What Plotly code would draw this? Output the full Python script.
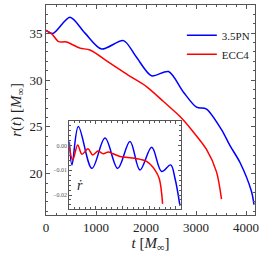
import plotly.graph_objects as go

# Main panel: r(t)
t_pn = [0, 140, 480, 780, 1110, 1550, 1800, 2110, 2450, 2750, 3010, 3210, 3510, 3680, 3880, 4110, 4160]
r_pn = [35.3, 34.97, 36.7, 35.0, 33.3, 34.2, 32.5, 30.45, 30.9, 28.7, 27.1, 26.9, 24.7, 23.0, 21.2, 18.1, 16.7]
t_ecc = [0, 120, 250, 410, 680, 880, 1280, 1650, 2010, 2350, 2680, 2910, 3210, 3410, 3510]
r_ecc = [35.3, 34.9, 34.1, 34.05, 33.4, 33.2, 31.8, 30.5, 29.3, 27.7, 26.1, 24.7, 22.6, 20.2, 17.3]

# Inset: rdot(t)
ti_pn = [0, 100, 340, 850, 1340, 1815, 2275, 2650, 3090, 3465, 3800, 3965, 4150]
rd_pn = [0.0017, -0.0078, 0.0078, -0.0092, 0.0031, -0.0092, 0.0017, -0.0099, -0.0007, -0.0105, -0.0078, -0.0133, -0.0243]
ti_ecc = [0, 130, 315, 475, 700, 880, 1080, 1270, 1460, 1650, 1900, 2465, 2900, 3215, 3375, 3500]
rd_ecc = [-0.0003, -0.0058, 0.0003, -0.0035, -0.0013, -0.0038, -0.0022, -0.0033, -0.0026, -0.0033, -0.0044, -0.0051, -0.0064, -0.0099, -0.0134, -0.0236]

labels = ["3.5PN", "ECC4"]
BLUE = "#0000ff"
RED = "#ff0000"
FONT = "Liberation Serif"

fig = go.Figure()
fig.add_trace(go.Scatter(x=t_pn, y=r_pn, mode="lines", name=labels[0],
                         line=dict(color=BLUE, width=1.5, shape="spline", smoothing=0.8)))
fig.add_trace(go.Scatter(x=t_ecc, y=r_ecc, mode="lines", name=labels[1],
                         line=dict(color=RED, width=1.5, shape="spline", smoothing=0.8)))
fig.add_trace(go.Scatter(x=ti_pn, y=rd_pn, mode="lines", showlegend=False, xaxis="x2", yaxis="y2",
                         line=dict(color=BLUE, width=1.5, shape="spline", smoothing=1.0)))
fig.add_trace(go.Scatter(x=ti_ecc, y=rd_ecc, mode="lines", showlegend=False, xaxis="x2", yaxis="y2",
                         line=dict(color=RED, width=1.5, shape="spline", smoothing=1.0)))

axcommon = dict(showline=True, linecolor="#555", linewidth=1, mirror="allticks", automargin=False,
                ticks="inside", tickcolor="#555", showgrid=False, zeroline=False)

fig.update_layout(
    width=263, height=261,
    margin=dict(l=46, r=8, t=5, b=46, autoexpand=False),
    paper_bgcolor="white", plot_bgcolor="white",
    font=dict(family=FONT, color="#222", size=13),
    showlegend=True,
    legend=dict(x=0.65, y=0.925, xanchor="left", yanchor="top", bgcolor="rgba(0,0,0,0)",
                font=dict(size=11, family=FONT), itemwidth=30, tracegroupgap=0),
    xaxis=dict(range=[0, 4180], tickvals=[0, 1000, 2000, 3000, 4000], ticklen=4,
               minor=dict(dtick=200, ticklen=2, ticks="inside", tickcolor="#555"),
               title=dict(text="<i>t</i> [<i>M</i><sub>∞</sub>]", font=dict(size=15), standoff=3),
               tickfont=dict(size=13), **axcommon),
    yaxis=dict(range=[15.6, 38], tickvals=[20, 25, 30, 35], ticklen=4,
               minor=dict(dtick=1, ticklen=2, ticks="inside", tickcolor="#555"),
               title=dict(text="<i>r</i>(<i>t</i>) [<i>M</i><sub>∞</sub>]", font=dict(size=15), standoff=4),
               tickfont=dict(size=13), **axcommon),
    xaxis2=dict(domain=[0.1115, 0.646], anchor="y2", range=[0, 4190], tickvals=[0, 1000, 2000, 3000, 4000],
                showticklabels=False, ticklen=3,
                minor=dict(dtick=200, ticklen=2, ticks="inside", tickcolor="#555"), **axcommon),
    yaxis2=dict(domain=[0.027, 0.449], anchor="x2", range=[-0.0258, 0.0101],
                tickvals=[-0.02, -0.01, 0.0], ticktext=["−0.02", "−0.01", "0.00"], ticklen=3,
                tickfont=dict(size=6, color="#555"),
                minor=dict(dtick=0.002, ticklen=2, ticks="inside", tickcolor="#555"), **axcommon),
)

fig.add_annotation(x=0.05, y=0.27, xref="x2 domain", yref="y2 domain", text="<i>ṙ</i>",
                   showarrow=False, font=dict(size=14, family=FONT), xanchor="left", yanchor="middle")

fig.write_html("out.html", config={"displayModeBar": False},
               post_script="document.body.style.margin='0';document.body.style.overflow='hidden';")
